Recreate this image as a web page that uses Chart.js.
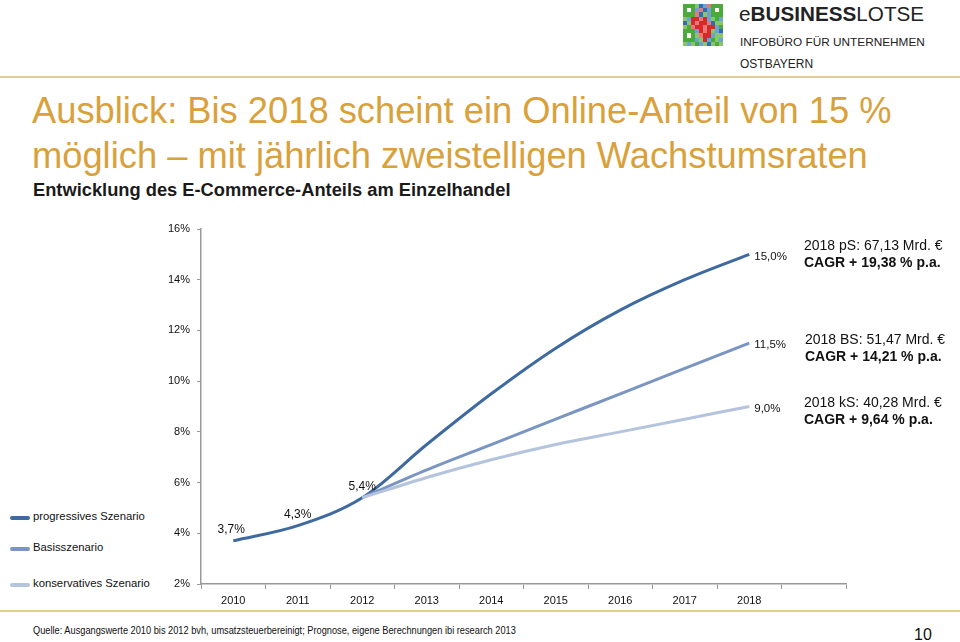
<!DOCTYPE html>
<html>
<head>
<meta charset="utf-8">
<script src="https://cdn.jsdelivr.net/npm/chart.js@4"></script>
<style>
  html,body{margin:0;padding:0;background:#fff;}
  body{width:960px;height:642px;position:relative;overflow:hidden;font-family:Arial,"Liberation Sans",sans-serif;}
  .abs{position:absolute;white-space:nowrap;}
  #title{left:32px;top:88px;font-size:36.3px;line-height:45px;color:#d9a13b;}
  #sub{left:33px;top:179px;font-size:18.3px;font-weight:bold;color:#1a1a1a;}
  .rule{position:absolute;left:0;width:960px;height:2px;background:#e3cd8c;}
  .leg{position:absolute;left:10px;font-size:11.3px;color:#111;white-space:nowrap;}
  .leg i{position:absolute;left:0;top:6px;width:20px;height:3.5px;border-radius:2px;}
  .leg span{position:absolute;left:23px;top:0;}
  .note{font-size:14px;color:#111;line-height:17px;}
  .note b{font-weight:bold;}
  #qr{position:absolute;left:683px;top:4px;width:40px;height:42px;display:grid;grid-template-columns:repeat(10,4px);grid-template-rows:repeat(10,4.2px);}
</style>
</head>
<body>
<div id="qr"></div>
<div class="abs" style="left:739px;top:2px;font-size:20.7px;color:#222;">e<b>BUSINESS</b>LOTSE</div>
<div class="abs" style="left:740px;top:35px;font-size:11.8px;color:#222;">INFOBÜRO FÜR UNTERNEHMEN</div>
<div class="abs" style="left:740px;top:57px;font-size:12px;color:#222;">OSTBAYERN</div>
<div class="rule" style="top:76px;"></div>

<div id="title" class="abs">Ausblick: Bis 2018 scheint ein Online-Anteil von 15 %<br>möglich – mit jährlich zweistelligen Wachstumsraten</div>
<div id="sub" class="abs">Entwicklung des E-Commerce-Anteils am Einzelhandel</div>

<div style="position:absolute;left:150px;top:210px;width:720px;height:400px;">
  <canvas id="c" width="720" height="400"></canvas>
</div>

<div class="leg" style="top:510px;"><i style="background:#3f6aa0"></i><span>progressives Szenario</span></div>
<div class="leg" style="top:541px;"><i style="background:#7b95c2"></i><span>Basisszenario</span></div>
<div class="leg" style="top:577px;"><i style="background:#b3c4dc"></i><span>konservatives Szenario</span></div>

<div class="abs note" style="left:804px;top:237px;">2018 pS: 67,13 Mrd. €<br><b>CAGR + 19,38 % p.a.</b></div>
<div class="abs note" style="left:805px;top:331px;">2018 BS: 51,47 Mrd. €<br><b>CAGR + 14,21 % p.a.</b></div>
<div class="abs note" style="left:804px;top:394px;">2018 kS: 40,28 Mrd. €<br><b>CAGR + 9,64 % p.a.</b></div>

<div class="rule" style="top:610px;"></div>
<div class="abs" style="left:33px;top:624px;font-size:11px;color:#111;transform:scaleX(0.84);transform-origin:0 0;">Quelle: Ausgangswerte 2010 bis 2012 bvh, umsatzsteuerbereinigt; Prognose, eigene Berechnungen ibi research 2013</div>
<div class="abs" style="left:914px;top:626px;font-size:16px;color:#111;">10</div>

<script>
// ---- data ----
const years = ['2010','2011','2012','2013','2014','2015','2016','2017','2018',''];
const progressiv = [3.7, 4.3, 5.4, 7.5, 9.5, 11.3, 12.8, 14.0, 15.0, null];
const basis = [null, null, 5.4, 6.5, 7.5, 8.5, 9.5, 10.5, 11.5, null];
const konservativ = [null, null, 5.4, 6.2, 6.9, 7.5, 8.0, 8.5, 9.0, null];
const yTicks = [2, 4, 6, 8, 10, 12, 14, 16];

// ---- QR-like logo ----
(function(){
  const pat = [
    "GGGgBbrGGG",
    "GwGbrBbGwG",
    "GGGrBgbGGG",
    "gbRRrRbgGb",
    "BgRrRRrBgg",
    "gGrRRrRRbG",
    "GGGbRrRgbB",
    "GwGgrRRbgg",
    "GGGbgRbGgb",
    "gbgGbgBgGg"];
  const col = {G:'#4caa3c',g:'#8cc46a',B:'#2f6db5',b:'#6fa0d8',R:'#d8282a',r:'#e8787a',w:'#ffffff'};
  const qr = document.getElementById('qr');
  pat.forEach(row=>{[...row].forEach(ch=>{const d=document.createElement('div');d.style.background=col[ch];qr.appendChild(d);});});
})();

const fmt = v => v.toFixed(1).replace('.', ',') + '%';

const labelPlugin = {
  id: 'valueLabels',
  afterDatasetsDraw(chart) {
    const ctx = chart.ctx;
    ctx.save();
    ctx.fillStyle = '#111';
    chart.data.datasets.forEach((ds, di) => {
      const meta = chart.getDatasetMeta(di);
      (ds.labelAt || []).forEach(([idx, pos]) => {
        const el = meta.data[idx];
        if (!el) return;
        const v = ds.data[idx];
        if (pos === 'above') {
          ctx.font = '12px Arial, "Liberation Sans", sans-serif';
          ctx.textAlign = 'center'; ctx.textBaseline = 'bottom';
          ctx.fillText(fmt(v), el.x - (idx === 0 ? 2 : 0), el.y - 5);
        } else {
          ctx.font = '11.5px Arial, "Liberation Sans", sans-serif';
          ctx.textAlign = 'left'; ctx.textBaseline = 'middle';
          ctx.fillText(fmt(v), el.x + 5, el.y + 2);
        }
      });
    });
    ctx.restore();
  }
};

new Chart(document.getElementById('c'), {
  type: 'line',
  data: {
    labels: years,
    datasets: [
      { label: 'progressives Szenario', data: progressiv, borderColor: '#3f6aa0', borderWidth: 3, order: 2,
        labelAt: [[0,'above'],[1,'above'],[2,'above'],[8,'right']] },
      { label: 'Basisszenario', data: basis, borderColor: '#7b95c2', borderWidth: 3, order: 1,
        labelAt: [[8,'right']] },
      { label: 'konservatives Szenario', data: konservativ, borderColor: '#b3c4dc', borderWidth: 3, order: 0,
        labelAt: [[8,'right']] }
    ]
  },
  options: {
    responsive: false,
    animation: false,
    devicePixelRatio: 1,
    layout: { padding: { top: 19, right: 24, left: 0, bottom: 0 } },
    elements: {
      point: { radius: 0, hoverRadius: 0 },
      line: { cubicInterpolationMode: 'monotone', borderCapStyle: 'butt', fill: false }
    },
    plugins: { legend: { display: false }, tooltip: { enabled: false } },
    scales: {
      x: {
        type: 'category',
        offset: true,
        grid: { display: true, drawOnChartArea: false, drawTicks: true, tickLength: 5, color: '#999', offset: true },
        border: { display: true, color: '#999', width: 1.5 },
        ticks: { color: '#111', font: { size: 11, family: 'Arial, "Liberation Sans", sans-serif' }, padding: 5, maxRotation: 0, autoSkip: false },
        afterFit(s) { s.height = 26; }
      },
      y: {
        min: 2, max: 16,
        afterBuildTicks(s) { s.ticks = yTicks.map(v => ({ value: v })); },
        grid: { display: true, drawOnChartArea: false, drawTicks: true, tickLength: 4, color: '#999' },
        border: { display: true, color: '#999', width: 1.5 },
        ticks: { color: '#111', font: { size: 11, family: 'Arial, "Liberation Sans", sans-serif' }, padding: 7, callback: v => v + '%' },
        afterFit(s) { s.width = 51; }
      }
    }
  },
  plugins: [labelPlugin]
});
</script>
</body>
</html>
